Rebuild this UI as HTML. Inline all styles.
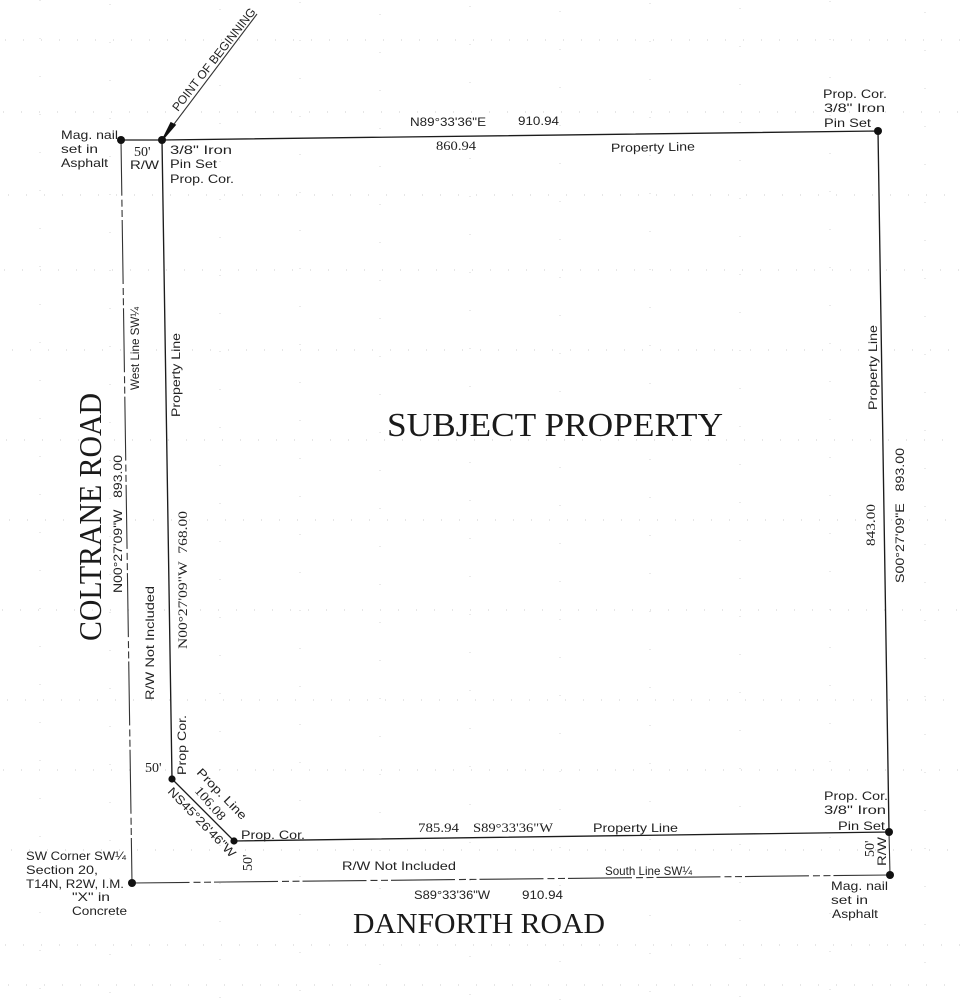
<!DOCTYPE html>
<html lang="en">
<head>
<meta charset="utf-8">
<title>Survey plat</title>
<style>
html,body{margin:0;padding:0;background:#fff}
svg{display:block}
text{font-family:"Liberation Sans",sans-serif;font-size:12px;fill:#222}
.s{font-family:"Liberation Serif",serif;fill:#1a1a1a}
.n{font-family:"Liberation Serif",serif;font-size:13px}
.l{stroke:#1c1c1c;stroke-width:1.35;fill:none}
.t{stroke:#333;stroke-width:1.1;fill:none}
</style>
</head>
<body>
<svg width="962" height="1000" viewBox="0 0 962 1000" xmlns="http://www.w3.org/2000/svg">
<rect width="962" height="1000" fill="#fff"/>
<!-- speckle -->
<path stroke="#ccc" stroke-width="1" fill="none" stroke-dasharray="1 17" d="M5 40H960M3 112H960M8 195H960M4 270H960M12 350H960M6 440H960M9 520H960M2 610H960M7 700H960M3 770H960M11 850H960M5 945H960M8 985H960"/>
<path stroke="#d4d4d4" stroke-width="1" fill="none" stroke-dasharray="1 37" d="M40 0V1000M110 4V1000M220 9V1000M300 2V1000M380 14V1000M470 6V1000M560 11V1000M650 3V1000M740 8V1000M830 1V1000M925 12V1000"/>
<!-- outer lines -->
<path class="l" d="M121 140H162"/>
<path class="t" stroke-dasharray="64 4 7 3.3 7 3" stroke-dashoffset="8.3" d="M121 140L132 883"/>
<path class="t" stroke-dasharray="64 4 7 3.5 7 3" stroke-dashoffset="6.5" d="M132 883L890 875"/>
<path class="t" d="M889 832L890 875"/>
<!-- property boundary -->
<path class="l" d="M162 140L878 131L889 832L234 841L172 779L162 140Z"/>
<!-- POB leader -->
<path class="t" d="M162 140L257 14"/>
<path d="M163 139L171 123L175 125Z" stroke="#111" stroke-width="1.6" fill="#111"/>
<!-- corners -->
<g fill="#111">
<circle cx="121" cy="140" r="4"/><circle cx="162" cy="140" r="4"/>
<circle cx="878" cy="131" r="4"/><circle cx="889" cy="832" r="4"/>
<circle cx="890" cy="875" r="4"/><circle cx="132" cy="883" r="4"/>
<circle cx="172" cy="779" r="3.6"/><circle cx="234" cy="841" r="3.6"/>
</g>
<!-- big titles -->
<text class="s" x="387" y="436" style="font-size:34px" textLength="336" lengthAdjust="spacingAndGlyphs">SUBJECT PROPERTY</text>
<text class="s" x="353" y="933" style="font-size:29px" textLength="252" lengthAdjust="spacingAndGlyphs">DANFORTH ROAD</text>
<text class="s" transform="translate(101,641) rotate(-90)" style="font-size:32px" textLength="248" lengthAdjust="spacingAndGlyphs">COLTRANE ROAD</text>
<!-- POB -->
<text transform="translate(178,112) rotate(-52)" textLength="127" lengthAdjust="spacingAndGlyphs">POINT OF BEGINNING</text>
<!-- top left -->
<text x="61" y="139" textLength="57" lengthAdjust="spacingAndGlyphs">Mag. nail</text>
<text x="61" y="153" textLength="37" lengthAdjust="spacingAndGlyphs">set in</text>
<text x="61" y="167" textLength="47" lengthAdjust="spacingAndGlyphs">Asphalt</text>
<text class="n" x="134" y="156" style="font-size:14px">50'</text>
<text x="130" y="169" textLength="29" lengthAdjust="spacingAndGlyphs">R/W</text>
<text x="170" y="154" textLength="62" lengthAdjust="spacingAndGlyphs">3/8" Iron</text>
<text x="170" y="168" textLength="47" lengthAdjust="spacingAndGlyphs">Pin Set</text>
<text x="170" y="183" textLength="64" lengthAdjust="spacingAndGlyphs">Prop. Cor.</text>
<!-- top line -->
<text x="410" y="126" textLength="76" lengthAdjust="spacingAndGlyphs">N89°33'36"E</text>
<text x="518" y="125" textLength="41" lengthAdjust="spacingAndGlyphs">910.94</text>
<text class="n" x="436" y="150" textLength="40" lengthAdjust="spacingAndGlyphs">860.94</text>
<text transform="translate(611,152) rotate(-1)" textLength="84" lengthAdjust="spacingAndGlyphs">Property Line</text>
<!-- top right -->
<text x="823" y="98" textLength="64" lengthAdjust="spacingAndGlyphs">Prop. Cor.</text>
<text x="824" y="112" textLength="61" lengthAdjust="spacingAndGlyphs">3/8" Iron</text>
<text x="824" y="127" textLength="47" lengthAdjust="spacingAndGlyphs">Pin Set</text>
<!-- vertical left -->
<text transform="translate(139,390) rotate(-90)" textLength="83" lengthAdjust="spacingAndGlyphs">West Line SW¼</text>
<text transform="translate(122,593) rotate(-90)" textLength="138" lengthAdjust="spacingAndGlyphs">N00°27'09"W&#160;&#160;&#160;893.00</text>
<text transform="translate(154,700) rotate(-90)" textLength="114" lengthAdjust="spacingAndGlyphs">R/W Not Included</text>
<text transform="translate(180,417) rotate(-90)" textLength="84" lengthAdjust="spacingAndGlyphs">Property Line</text>
<text class="n" transform="translate(187,649) rotate(-90)" textLength="138" lengthAdjust="spacingAndGlyphs">N00°27'09"W&#160;&#160;768.00</text>
<text transform="translate(186,775) rotate(-90)" textLength="60" lengthAdjust="spacingAndGlyphs">Prop Cor.</text>
<text class="n" x="145" y="772" style="font-size:14px">50'</text>
<!-- diagonal -->
<text transform="translate(196,773) rotate(46)" textLength="66" lengthAdjust="spacingAndGlyphs">Prop. Line</text>
<text class="n" transform="translate(194,791) rotate(49)" textLength="40" lengthAdjust="spacingAndGlyphs">106.08</text>
<text transform="translate(167,792) rotate(46)" textLength="92" lengthAdjust="spacingAndGlyphs">NS45°26'46"W</text>
<!-- bottom left -->
<text x="241" y="839" textLength="64" lengthAdjust="spacingAndGlyphs">Prop. Cor.</text>
<text class="n" transform="translate(252,871) rotate(-90)" style="font-size:14px">50'</text>
<text x="26" y="860" textLength="100" lengthAdjust="spacingAndGlyphs">SW Corner SW¼</text>
<text x="26" y="874" textLength="72" lengthAdjust="spacingAndGlyphs">Section 20,</text>
<text x="26" y="888" textLength="98" lengthAdjust="spacingAndGlyphs">T14N, R2W, I.M.</text>
<text x="72" y="901" textLength="38" lengthAdjust="spacingAndGlyphs">"X" in</text>
<text x="72" y="915" textLength="55" lengthAdjust="spacingAndGlyphs">Concrete</text>
<!-- bottom -->
<text class="n" x="418" y="832" textLength="41" lengthAdjust="spacingAndGlyphs">785.94</text>
<text class="n" x="473" y="832" textLength="80" lengthAdjust="spacingAndGlyphs">S89°33'36"W</text>
<text x="593" y="832" textLength="85" lengthAdjust="spacingAndGlyphs">Property Line</text>
<text x="342" y="870" textLength="114" lengthAdjust="spacingAndGlyphs">R/W Not Included</text>
<text x="605" y="875" textLength="87" lengthAdjust="spacingAndGlyphs">South Line SW¼</text>
<text x="414" y="899" textLength="76" lengthAdjust="spacingAndGlyphs">S89°33'36"W</text>
<text x="522" y="899" textLength="41" lengthAdjust="spacingAndGlyphs">910.94</text>
<!-- bottom right -->
<text x="824" y="800" textLength="64" lengthAdjust="spacingAndGlyphs">Prop. Cor.</text>
<text x="824" y="814" textLength="62" lengthAdjust="spacingAndGlyphs">3/8" Iron</text>
<text x="838" y="830" textLength="47" lengthAdjust="spacingAndGlyphs">Pin Set</text>
<text class="n" transform="translate(874,857) rotate(-90)" style="font-size:14px">50'</text>
<text transform="translate(886,866) rotate(-90)" textLength="29" lengthAdjust="spacingAndGlyphs">R/W</text>
<text x="831" y="890" textLength="57" lengthAdjust="spacingAndGlyphs">Mag. nail</text>
<text x="831" y="904" textLength="37" lengthAdjust="spacingAndGlyphs">set in</text>
<text x="832" y="918" textLength="46" lengthAdjust="spacingAndGlyphs">Asphalt</text>
<!-- right vertical -->
<text transform="translate(877,410) rotate(-90)" textLength="85" lengthAdjust="spacingAndGlyphs">Property Line</text>
<text class="n" transform="translate(875,546) rotate(-90)" textLength="42" lengthAdjust="spacingAndGlyphs">843.00</text>
<text transform="translate(904,583) rotate(-90)" textLength="135" lengthAdjust="spacingAndGlyphs">S00°27'09"E&#160;&#160;&#160;893.00</text>
</svg>
</body>
</html>
